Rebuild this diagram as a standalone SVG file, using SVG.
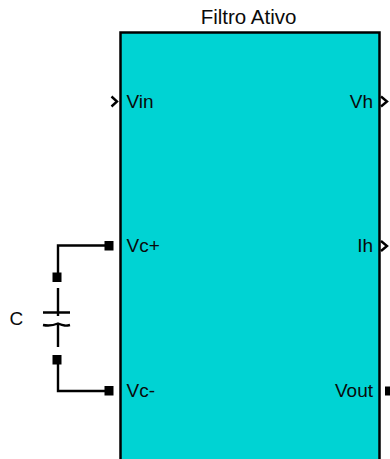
<svg xmlns="http://www.w3.org/2000/svg" width="390" height="459" viewBox="0 0 390 459">
<style>
text{font-family:"Liberation Sans",Arial,sans-serif;font-size:19px;fill:#0a0a0a}
.t{font-size:20.500px}
.w{fill:none;stroke:#000;stroke-width:2.400}
.p{fill:#000}
.a{fill:none;stroke:#000;stroke-width:2.400}
</style>
<rect width="390" height="459" fill="#fff"/>
<g id="filtro-ativo">
<path d="M120.500 459V32.500H379.500V459" fill="#00d3d3" stroke="#000" stroke-width="2.500"/>
<text class="t" x="248.500" y="24" text-anchor="middle">Filtro Ativo</text>
<text x="126.500" y="108">Vin</text>
<text x="126.500" y="252">Vc+</text>
<text x="126.500" y="397">Vc-</text>
<text x="373" y="108" text-anchor="end">Vh</text>
<text x="373" y="252" text-anchor="end">Ih</text>
<text x="373" y="397" text-anchor="end">Vout</text>
<path class="a" d="M111.500 96.500L117 101.500L111.500 106.500"/>
<path class="a" d="M381 96.500L387 101.500L381 106.500" stroke-width="2"/>
<path class="a" d="M381 241L387 246L381 251" stroke-width="2"/>
<rect class="p" x="104.500" y="241" width="9" height="9.500"/>
<rect class="p" x="104.500" y="386" width="9" height="9.500"/>
<path d="M385 386.500H390V395.500H385z" fill="#000"/>
</g>
<g id="capacitor-c">
<text x="9.500" y="325">C</text>
<path class="a" d="M58 288V316M43 312.500H70"/>
<path class="a" d="M43 325C48 326 52 326 58 323.500C64 326 66 326 70 325M58 324V347"/>
<rect class="p" x="52.500" y="272.500" width="9" height="9.500"/>
<rect class="p" x="52.500" y="355" width="9" height="9.500"/>
</g>
<g id="connectors">
<path class="w" d="M105 245.500H58V273"/>
<path class="w" d="M58 364V391H105"/>
</g>
</svg>
